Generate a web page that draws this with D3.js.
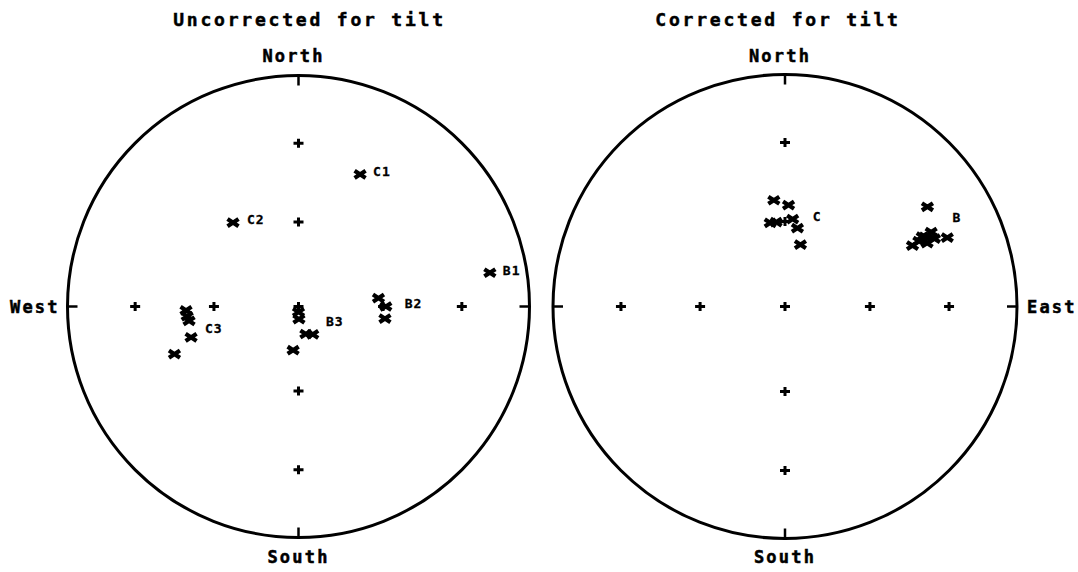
<!DOCTYPE html>
<html lang="en">
<head>
<meta charset="utf-8">
<title>Uncorrected / corrected for tilt</title>
<script src="https://cdn.jsdelivr.net/npm/d3@7"></script>
<style>
  body { margin: 0; background: #fff; }
  text { font-family: "DejaVu Sans Mono", monospace; font-weight: bold; fill: #000; stroke: #000; stroke-width: 0.5; }
</style>
</head>
<body>
<script>
// site mean directions, equal-area lower hemisphere (declination, inclination in degrees)
var uncorrectedDec = [25, 322, 80, 84, 90, 98, 180, 178, 165, 153, 187, 268, 265, 262.5, 254, 249];
var uncorrectedInc = [37, 52, 17, 61.5, 59, 59, 88, 85.6, 80, 79, 74.5, 49.7, 50, 50.5, 50, 42];
var uncorrectedLabels = ["C1", "C2", "B1", "B2", "B3", "C3"];
var uncorrectedLabelAt = [0, 1, 2, 4, 7, 13];

var correctedDec = [354, 2, 350, 354, 5, 9, 14, 55, 64.5, 64, 63.6, 63, 65.6, 66, 67, 63];
var correctedInc = [52, 54, 60, 60, 59, 62, 67.6, 26, 39, 36, 33, 30, 30, 33.4, 25, 34];
var correctedLabels = ["C", "B"];
var correctedLabelAt = [4, 7];

// reference crosses on the net
var gridDec = [0, 90, 180, 270];
var gridInc = [60, 30];

var W = 1078, H = 572;
var svg = d3.select("body").append("svg")
    .attr("width", W)
    .attr("height", H);

var xMark = "M-5.5,-3.6L5.5,3.6M-5.5,3.6L5.5,-3.6";
var plus = "M-5,0L5,0M0,-4.5L0,4.5";

function drawNet(o) {
  var g = svg.append("g");
  var r = d3.scaleLinear().domain([0, 1]).range([0, o.R]);
  var rad = Math.PI / 180;
  function px(dec, inc) {
    var rho = Math.SQRT2 * Math.sin((90 - inc) / 2 * rad);
    return [o.cx + r(rho) * Math.sin(dec * rad), o.cy - r(rho) * Math.cos(dec * rad)];
  }

  g.append("circle")
      .attr("cx", o.cx).attr("cy", o.cy).attr("r", o.R)
      .attr("fill", "none").attr("stroke", "#000").attr("stroke-width", 3);

  // N E S W ticks, pointing inward
  g.selectAll(".tick").data(gridDec).enter().append("line")
      .attr("x1", function(d) { return px(d, 0)[0]; })
      .attr("y1", function(d) { return px(d, 0)[1]; })
      .attr("x2", function(d) { return px(d, 0)[0] - 10 * Math.sin(d * rad); })
      .attr("y2", function(d) { return px(d, 0)[1] + 10 * Math.cos(d * rad); })
      .attr("stroke", "#000").attr("stroke-width", 2.5);

  var grid = [[0, 90]];
  gridDec.forEach(function(d) { gridInc.forEach(function(i) { grid.push([d, i]); }); });
  g.selectAll(".grid").data(grid).enter().append("path")
      .attr("d", plus)
      .attr("transform", function(d) { var p = px(d[0], d[1]); return "translate(" + p + ")"; })
      .attr("stroke", "#000").attr("stroke-width", 3).attr("fill", "none");

  g.selectAll(".pt").data(o.dec).enter().append("path")
      .attr("d", xMark)
      .attr("transform", function(d, i) { var p = px(d, o.inc[i]); return "translate(" + p + ")"; })
      .attr("stroke", "#000").attr("stroke-width", 4.2).attr("fill", "none");

  g.selectAll(".lab").data(o.labels).enter().append("text")
      .attr("x", function(d, i) { var k = o.labelAt[i]; return px(o.dec[k], o.inc[k])[0] + o.offsets[i][0]; })
      .attr("y", function(d, i) { var k = o.labelAt[i]; return px(o.dec[k], o.inc[k])[1] + o.offsets[i][1] + 5; })
      .attr("font-size", 13).attr("letter-spacing", 1)
      .style("stroke-width", 0.3)
      .text(function(d) { return d; });

  g.append("text").attr("x", o.cx + o.titleDx).attr("y", 26)
      .attr("text-anchor", "middle").attr("font-size", 18).attr("letter-spacing", 2.8)
      .text(o.title);
  g.append("text").attr("x", o.cx - 5).attr("y", 62)
      .attr("text-anchor", "middle").attr("font-size", 17).attr("letter-spacing", 2.2)
      .text("North");
  g.append("text").attr("x", o.cx).attr("y", 563)
      .attr("text-anchor", "middle").attr("font-size", 17).attr("letter-spacing", 2.2)
      .text("South");
  if (o.west) g.append("text").attr("x", 10).attr("y", 313)
      .attr("font-size", 17).attr("letter-spacing", 2.2).text("West");
  if (o.east) g.append("text").attr("x", 1027).attr("y", 313)
      .attr("font-size", 17).attr("letter-spacing", 2.2).text("East");
}

drawNet({
  cx: 298.5, cy: 306.5, R: 231,
  dec: uncorrectedDec, inc: uncorrectedInc,
  labels: uncorrectedLabels, labelAt: uncorrectedLabelAt,
  offsets: [[13, -3], [14, -4], [13, -3], [19, -4], [27, 2], [16, 7]],
  title: "Uncorrected for tilt", titleDx: 11, west: true
});

drawNet({
  cx: 785, cy: 306.5, R: 232,
  dec: correctedDec, inc: correctedInc,
  labels: correctedLabels, labelAt: correctedLabelAt,
  offsets: [[20, -3], [25, 10]],
  title: "Corrected for tilt", titleDx: -7, east: true
});
</script>
</body>
</html>
